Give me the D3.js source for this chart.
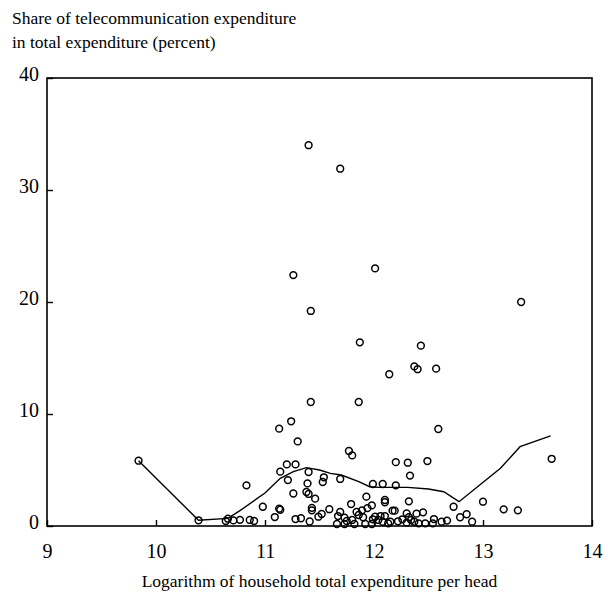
<!DOCTYPE html>
<html><head><meta charset="utf-8">
<script src="https://cdn.jsdelivr.net/npm/d3@7"></script>
<style>body{margin:0;background:#fff}svg{display:block}text{font-family:"Liberation Serif","Times New Roman",serif;fill:#000}</style>
</head><body><svg id="c" width="608" height="600"></svg>
<script>
const titleLines = ["Share of telecommunication expenditure", "in total expenditure (percent)"];
const xLabel = "Logarithm of household total expenditure per head";
const xTicks = [9, 10, 11, 12, 13, 14];
const yTicks = [0, 10, 20, 30, 40];

// scatter: log expenditure per head, share (%)
const pointX = [9.84,10.39,10.64,10.66,10.71,10.77,10.83,10.86,10.90,10.98,11.09,11.13,11.13,11.14,11.14,11.20,11.21,11.24,11.26,11.26,11.28,11.28,11.30,11.33,11.38,11.40,11.39,11.40,11.40,11.42,11.42,11.41,11.43,11.43,11.46,11.49,11.52,11.53,11.54,11.59,11.66,11.67,11.69,11.69,11.69,11.73,11.75,11.73,11.77,11.80,11.79,11.80,11.82,11.84,11.86,11.87,11.86,11.89,11.90,11.92,11.93,11.94,11.98,11.98,11.99,11.99,12.01,12.01,12.04,12.06,12.08,12.08,12.10,12.10,12.10,12.13,12.14,12.15,12.17,12.19,12.20,12.20,12.22,12.26,12.30,12.30,12.31,12.32,12.32,12.33,12.34,12.37,12.40,12.37,12.39,12.41,12.43,12.45,12.47,12.49,12.54,12.55,12.57,12.59,12.62,12.67,12.73,12.79,12.85,12.90,13.00,13.19,13.32,13.35,13.63];
const pointY = [5.83,0.51,0.45,0.65,0.50,0.55,3.63,0.54,0.45,1.72,0.80,8.69,1.55,1.45,4.85,5.50,4.10,9.35,22.4,2.90,5.50,0.62,7.55,0.69,3.04,2.86,3.80,4.82,34.0,19.2,11.07,0.40,1.62,1.40,2.44,0.83,1.07,3.93,4.35,1.50,0.18,0.89,31.9,4.20,1.25,0.74,0.45,0.18,6.70,6.30,1.96,0.54,0.18,1.25,0.98,16.4,11.07,1.40,0.78,0.18,2.62,1.60,1.84,0.18,3.75,0.60,23.0,0.83,0.54,0.89,3.75,0.38,2.32,2.12,0.89,0.24,13.55,0.38,1.37,1.37,5.70,3.63,0.42,0.60,1.13,0.30,5.65,2.20,0.78,4.50,0.54,14.25,14.0,0.38,1.10,0.24,16.1,1.22,0.24,5.80,0.24,0.62,14.05,8.66,0.38,0.48,1.72,0.78,1.05,0.38,2.17,1.49,1.40,20.0,6.0];

// fitted curve
const curveX = [9.84,10.39,10.66,10.77,11.0,11.14,11.26,11.38,11.50,11.60,11.70,11.86,11.96,12.05,12.31,12.50,12.64,12.78,13.16,13.34,13.62];
const curveY = [5.83,0.51,0.68,1.37,2.95,4.26,4.85,5.21,5.0,4.7,4.55,3.96,3.51,3.45,3.45,3.30,3.06,2.17,5.15,7.08,8.04];

const svg = d3.select("#c");
const L = 47, R = 592, T = 78, B = 526;
const x = d3.scaleLinear().domain([9, 14]).range([L, R]);
const y = d3.scaleLinear().domain([0, 40]).range([B, T]);

// titles
svg.append("g").selectAll("text").data(titleLines).join("text")
  .attr("x", 12).attr("y", (d, i) => 24 + i * 24)
  .attr("font-size", 17.5).text(d => d);

// frame
svg.append("rect").attr("x", L).attr("y", T).attr("width", R - L).attr("height", B - T)
  .attr("fill", "none").attr("stroke", "#000").attr("stroke-width", 1.6);

// bottom axis with inward ticks
const gx = svg.append("g").attr("transform", `translate(0,${B})`)
  .call(d3.axisBottom(x).tickValues(xTicks).tickFormat(d3.format("d")).tickSizeInner(-6).tickSizeOuter(0).tickPadding(18));
gx.select(".domain").remove();
gx.selectAll("line").attr("stroke-width", 1.4);
gx.selectAll("text").attr("font-size", 20).attr("font-family", "Liberation Serif").attr("fill", "#000");

const gy = svg.append("g").attr("transform", `translate(${L},0)`)
  .call(d3.axisLeft(y).tickValues(yTicks).tickFormat(d3.format("d")).tickSizeInner(-6).tickSizeOuter(0).tickPadding(8));
gy.select(".domain").remove();
gy.selectAll("line").attr("stroke-width", 1.4);
gy.selectAll("text").attr("font-size", 20).attr("font-family", "Liberation Serif").attr("fill", "#000").attr("dy", "0.1em");

// x label
svg.append("text").attr("x", (L + R) / 2).attr("y", 587).attr("text-anchor", "middle")
  .attr("font-size", 17.5).text(xLabel);

// curve
const curveData = curveX.map((d, i) => [d, curveY[i]]);
svg.append("path").datum(curveData)
  .attr("d", d3.line().x(d => x(d[0])).y(d => y(d[1])))
  .attr("fill", "none").attr("stroke", "#000").attr("stroke-width", 1.4);

// points
const pts = pointX.map((d, i) => [d, pointY[i]]);
svg.append("g").selectAll("circle").data(pts).join("circle")
  .attr("cx", d => x(d[0])).attr("cy", d => y(d[1])).attr("r", 3.4)
  .attr("fill", "none").attr("stroke", "#000").attr("stroke-width", 1.5);
</script></body></html>
